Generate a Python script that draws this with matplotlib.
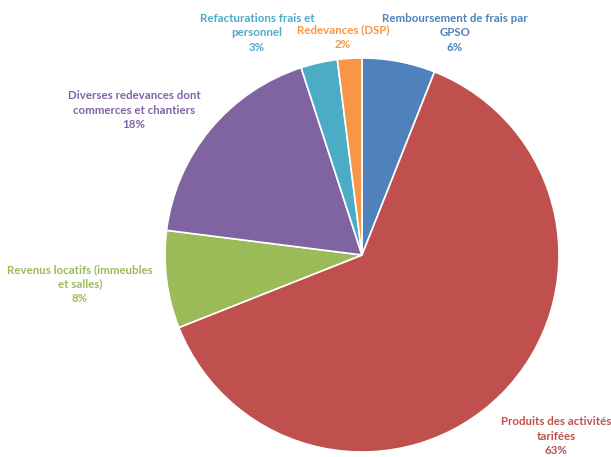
import matplotlib.pyplot as plt

categories = ["Remboursement de frais par\nGPSO", "Produits des activités\ntarifées",
              "Revenus locatifs (immeubles\net salles)", "Diverses redevances dont\ncommerces et chantiers",
              "Refacturations frais et\npersonnel", "Redevances (DSP)"]
values = [6, 63, 8, 18, 3, 2]
pct_labels = ["6%", "63%", "8%", "18%", "3%", "2%"]
colors = ["#4F81BD", "#C0504D", "#9BBB59", "#8064A2", "#4BACC6", "#F79646"]

W, H = 611, 457
cx, cy, R = 362, 255, 197
fig = plt.figure(figsize=(W/100, H/100), dpi=100)
ax = fig.add_axes([0, 0, 1, 1])
ax.pie(values, colors=colors, startangle=90, counterclock=False, radius=1,
       wedgeprops=dict(edgecolor="white", linewidth=1.2))
ax.set_xlim(-cx/R, (W-cx)/R)
ax.set_ylim(-(H-cy)/R, cy/R)
ax.set_aspect("equal")
ax.axis("off")

# label block centre (pixels) for each slice; drawn line by line
label_px = [(455, 33), (556, 436), (80, 284), (134, 110), (257, 33), (343, 37)]
line_step = 14.5
for (px, py), cat, pct, col in zip(label_px, categories, pct_labels, colors):
    lines = cat.split("\n") + [pct]
    n = len(lines)
    for i, line in enumerate(lines):
        ly = py + (i - (n - 1) / 2) * line_step
        ax.text((px-cx)/R, (cy-ly)/R, line, ha="center", va="center",
                color=col, fontsize=8.3, fontweight="bold", family="Lato")

fig.savefig("out.png", dpi=100)
